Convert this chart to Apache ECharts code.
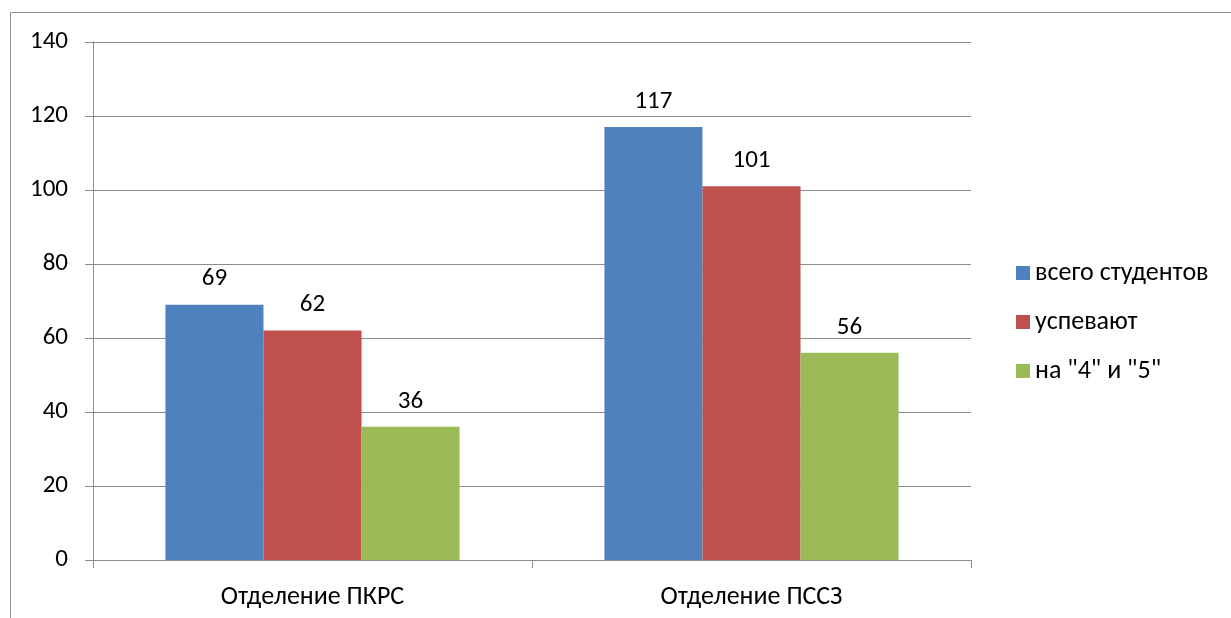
<!DOCTYPE html>
<html>
<head>
<meta charset="utf-8">
<script src="https://cdn.jsdelivr.net/npm/echarts@6/dist/echarts.min.js"></script>
<style>
  html, body { margin: 0; padding: 0; background: #fff; }
  #main { width: 1231px; height: 618px; }
</style>
</head>
<body>
<div id="main"></div>
<script>
var categories = ['Отделение ПКРС', 'Отделение ПССЗ'];
var seriesNames = ['всего студентов', 'успевают', 'на "4" и "5"'];
var allStudents = [69, 117];
var passing = [62, 101];
var goodMarks = [36, 56];
var yTicks = { min: 0, max: 140, interval: 20 };

var colors = ['#4F81BD', '#C0504D', '#9BBB59'];
var font = 'Carlito, Lato, "Open Sans", sans-serif';
var gray = '#8c8c8c';

var myChart = echarts.init(document.getElementById('main'));

function makeSeries(name, data, color) {
    return {
        name: name,
        type: 'bar',
        data: data,
        barGap: '0%',
        barCategoryGap: '33%',
        itemStyle: { color: color },
        label: {
            show: true,
            position: 'top',
            distance: 13,
            color: '#000',
            fontFamily: font,
            fontSize: 25
        }
    };
}

var option = {
    animation: false,
    color: colors,
    graphic: [{
        type: 'rect',
        shape: { x: 10.5, y: 12.5, width: 1240, height: 640 },
        style: { fill: null, stroke: gray, lineWidth: 1 }
    }],
    grid: { left: 93, right: 260, top: 42, bottom: 58 },
    legend: {
        orient: 'vertical',
        left: 1011,
        top: 255,
        itemWidth: 14,
        itemHeight: 14,
        itemGap: 23,
        icon: 'rect',
        data: seriesNames,
        textStyle: { fontFamily: font, fontSize: 26, color: '#000' }
    },
    xAxis: {
        type: 'category',
        data: categories,
        axisLine: { lineStyle: { color: gray, width: 1 } },
        axisTick: { show: true, length: 8, lineStyle: { color: gray } },
        axisLabel: { color: '#000', fontFamily: font, fontSize: 26, margin: 24 }
    },
    yAxis: {
        type: 'value',
        min: yTicks.min,
        max: yTicks.max,
        interval: yTicks.interval,
        axisLine: { show: true, lineStyle: { color: gray, width: 1 } },
        axisTick: { show: true, length: 8, lineStyle: { color: gray } },
        splitLine: { lineStyle: { color: gray, width: 1 } },
        axisLabel: { color: '#000', fontFamily: font, fontSize: 25, margin: 25 }
    },
    series: [
        makeSeries(seriesNames[0], allStudents, colors[0]),
        makeSeries(seriesNames[1], passing, colors[1]),
        makeSeries(seriesNames[2], goodMarks, colors[2])
    ]
};

myChart.setOption(option);
</script>
</body>
</html>
